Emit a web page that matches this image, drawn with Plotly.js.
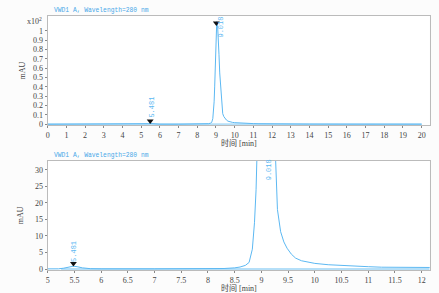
<!DOCTYPE html>
<html><head><meta charset="utf-8">
<script src="https://cdn.plot.ly/plotly-3.0.1.min.js"></script>
<style>html,body{margin:0;padding:0;background:#fcfcfc}</style>
</head><body><div id="chart" style="width:439px;height:293px"></div>
<script>
// chromatogram, time (min) and signal (mAU)
const timeMin = [0,1,2,3,4,5,5.2,5.3,5.4,5.48,5.55,5.65,5.8,6,7,8,8.3,8.5,8.6,8.7,8.77,8.83,8.87,8.9,8.93,8.96,9.0,9.04,9.08,9.12,9.16,9.2,9.25,9.3,9.36,9.42,9.48,9.56,9.64,9.75,9.88,10.0,10.25,10.5,10.75,11.0,11.25,11.5,11.75,12.0,12.5,13,14,16,18,20];
const signalMAU = [0,0,0,0,0,0,0.05,0.25,0.6,0.85,0.7,0.35,0.1,0.05,0.05,0.08,0.15,0.35,0.6,1.1,2.0,6,14,24,40,65,95,110,108,95,75,55,40,18,11.3,8.2,6.3,4.5,3.3,2.5,2.0,1.7,1.3,1.05,0.85,0.7,0.55,0.45,0.35,0.3,0.25,0.2,0.15,0.1,0.08,0.05];
const baselineTop = {x:[0,20], y:[0,0]};
const baselineBottom = {x:[5.25,5.8,8.3,12.15], y:[0,0,0,0]};
const peakTimes = [5.481, 9.018];
const peakLabels = ["5.481", "9.018"];
const markerTopY = [3.5, 108.5];
const markerBottomY = [1.7];
const topTickVals = [0,10,20,30,40,50,60,70,80,90,100];
const topTickText = ["0","0.1","0.2","0.3","0.4","0.5","0.6","0.7","0.8","0.9","1"];
const topXTicks = [0,1,2,3,4,5,6,7,8,9,10,11,12,13,14,15,16,17,18,19,20];
const bottomXTicks = [5,5.5,6,6.5,7,7.5,8,8.5,9,9.5,10,10.5,11,11.5,12];
const bottomYTicks = [0,5,10,15,20,25,30];
const titleText = "VWD1 A, Wavelength=280 nm";
const xTitleText = "时间 [min]";

const lineColor = '#5cb8f2';
const paleColor = '#b5dff8';
const tickFont = {family:'Liberation Serif, Noto Sans CJK SC, serif', size:8, color:'#444'};
const labelFont = {family:'Liberation Mono, monospace', size:7, color:'#5cb8f2'};
const xTitleFont = {family:'Liberation Serif, Noto Sans CJK SC, serif', size:8, color:'#444'};

const traces = [
  {x:baselineTop.x, y:baselineTop.y, xaxis:'x', yaxis:'y', mode:'lines', line:{color:paleColor, width:2}, hoverinfo:'skip'},
  {x:timeMin, y:signalMAU, xaxis:'x', yaxis:'y', mode:'lines', line:{color:lineColor, width:1}},
  {x:peakTimes, y:markerTopY, xaxis:'x', yaxis:'y', mode:'markers', marker:{symbol:'triangle-down', size:6, color:'#111'}},
  {x:baselineBottom.x, y:baselineBottom.y, xaxis:'x2', yaxis:'y2', mode:'lines', line:{color:paleColor, width:2}, hoverinfo:'skip'},
  {x:timeMin, y:signalMAU, xaxis:'x2', yaxis:'y2', mode:'lines', line:{color:lineColor, width:1}},
  {x:[peakTimes[0]], y:markerBottomY, xaxis:'x2', yaxis:'y2', mode:'markers', marker:{symbol:'triangle-down', size:6, color:'#111'}}
];

const axisCommon = {showgrid:false, zeroline:false, showline:true, linecolor:'#bbb', linewidth:1, mirror:true,
  ticks:'outside', ticklen:2, tickcolor:'#888', tickfont:tickFont};

const layout = {
  width:439, height:293, showlegend:false,
  paper_bgcolor:'#fcfcfc', plot_bgcolor:'#ffffff',
  margin:{l:0, r:0, t:0, b:0},
  xaxis: Object.assign({}, axisCommon, {domain:[0.1087,0.9788], anchor:'y', range:[0,20.43], tickvals:topXTicks}),
  yaxis: Object.assign({}, axisCommon, {domain:[0.5734,0.9454], anchor:'x', range:[-0.8,116], tickvals:topTickVals, ticktext:topTickText,
    title:{text:'mAU', font:{family:'Liberation Serif, serif', size:8, color:'#444'}, standoff:6}}),
  xaxis2: Object.assign({}, axisCommon, {domain:[0.1087,0.9788], anchor:'y2', range:[5,12.15], tickvals:bottomXTicks}),
  yaxis2: Object.assign({}, axisCommon, {domain:[0.0785,0.4515], anchor:'x2', range:[-0.3,32.8], tickvals:bottomYTicks,
    title:{text:'mAU', font:{family:'Liberation Serif, serif', size:8, color:'#444'}, standoff:10}}),
  annotations: [
    {xref:'paper', yref:'paper', x:0.118, y:0.946, xanchor:'left', yanchor:'bottom', showarrow:false, text:titleText,
      font:{family:'Liberation Mono, monospace', size:6.3, color:'#4aa8e8'}},
    {xref:'paper', yref:'paper', x:0.118, y:0.452, xanchor:'left', yanchor:'bottom', showarrow:false, text:titleText,
      font:{family:'Liberation Mono, monospace', size:6.3, color:'#4aa8e8'}},
    {xref:'paper', yref:'paper', x:0.10, y:0.930, xanchor:'right', yanchor:'middle', showarrow:false, text:'x10<sup>2</sup>',
      font:{family:'Liberation Serif, serif', size:8, color:'#444'}},
    {xref:'paper', yref:'paper', x:0.5437, y:1-142.5/293, xanchor:'center', yanchor:'middle', showarrow:false, text:xTitleText, font:xTitleFont},
    {xref:'paper', yref:'paper', x:0.5437, y:1-288/293, xanchor:'center', yanchor:'middle', showarrow:false, text:xTitleText, font:xTitleFont},
    {xref:'x', yref:'y', x:peakTimes[0], y:18.6, xshift:1.5, textangle:-90, showarrow:false, text:peakLabels[0], font:labelFont},
    {xref:'x', yref:'y', x:peakTimes[1], y:104, xshift:5, textangle:-90, showarrow:false, text:peakLabels[1], font:labelFont},
    {xref:'x2', yref:'y2', x:peakTimes[0], y:5.3, textangle:-90, showarrow:false, text:peakLabels[0], font:labelFont},
    {xref:'x2', yref:'y2', x:peakTimes[1], y:30, xshift:7, textangle:-90, showarrow:false, text:peakLabels[1], font:labelFont}
  ]
};

Plotly.newPlot('chart', traces, layout, {staticPlot:true, displayModeBar:false});
</script></body></html>
